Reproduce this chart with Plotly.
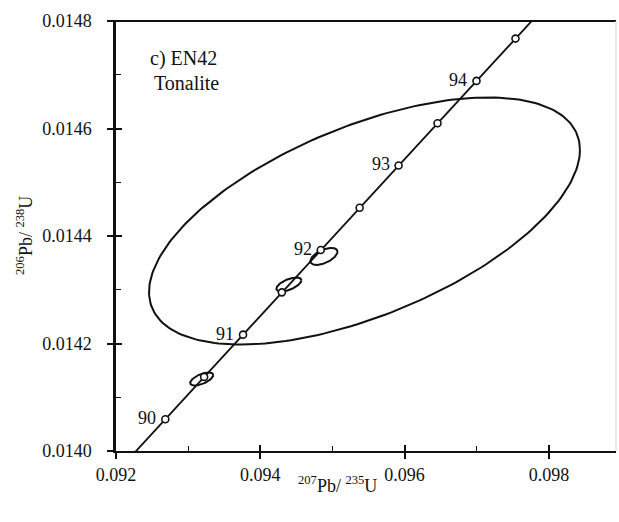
import numpy as np
import plotly.graph_objects as go

# Concordia reference points (age in Ma, 207Pb/235U, 206Pb/238U)
conc_age = [89.5, 90.0, 90.5, 91.0, 91.5, 92.0, 92.5, 93.0, 93.5, 94.0, 94.5, 95.0]
conc_x = [0.09214546, 0.09268339, 0.09322159, 0.09376057, 0.09429878, 0.09483777,
          0.09537703, 0.09591655, 0.09645635, 0.09699640, 0.09753672, 0.09807731]
conc_y = [0.01398053, 0.01405916, 0.01413782, 0.01421648, 0.01429515, 0.01437382,
          0.01445250, 0.01453119, 0.01460988, 0.01468858, 0.01476729, 0.01484600]
labelled_ages = [90, 91, 92, 93, 94]

# Analysis error ellipses: centre, half-widths and correlation
ell_cx = [0.095444, 0.094882, 0.094396, 0.093188]
ell_cy = [0.014428, 0.014362, 0.0143098, 0.014134]
ell_rx = [0.002986, 0.0001875, 0.0001736, 0.000160]
ell_ry = [0.0002298, 0.0000158, 0.0000130, 0.0000121]
ell_rho = [0.575, 0.55, 0.60, 0.60]

x_ticks = [0.092, 0.094, 0.096, 0.098]
x_minor = [0.093, 0.095, 0.097]
y_ticks = [0.0140, 0.0142, 0.0144, 0.0146, 0.0148]
y_minor = [0.0141, 0.0143, 0.0145, 0.0147]
x_range = [0.092, 0.09893]
y_range = [0.0140, 0.0148]

FONT = "'Liberation Serif', 'Times New Roman', Times, serif"
INK = "#111111"

fig = go.Figure()

# error ellipses
theta = np.linspace(0, 2 * np.pi, 240)
for cx, cy, rx, ry, rho in zip(ell_cx, ell_cy, ell_rx, ell_ry, ell_rho):
    ex = cx + rx * np.cos(theta)
    ey = cy + ry * (rho * np.cos(theta) + np.sqrt(1 - rho ** 2) * np.sin(theta))
    fig.add_trace(go.Scatter(x=ex, y=ey, mode="lines",
                             line=dict(color=INK, width=2),
                             showlegend=False, hoverinfo="skip"))

# concordia curve
fig.add_trace(go.Scatter(x=conc_x, y=conc_y, mode="lines",
                         line=dict(color=INK, width=1.8),
                         showlegend=False, hoverinfo="skip"))

# age markers every 0.5 Ma
mk = [(a, x, y) for a, x, y in zip(conc_age, conc_x, conc_y) if 90 <= a <= 94.5]
fig.add_trace(go.Scatter(x=[m[1] for m in mk], y=[m[2] for m in mk], mode="markers",
                         marker=dict(symbol="circle", size=7, color="white",
                                     line=dict(color=INK, width=1.6)),
                         showlegend=False, hoverinfo="skip"))

# dummy trace for the overlaid tick axes
fig.add_trace(go.Scatter(x=[None], y=[None], xaxis="x2", yaxis="y2",
                         showlegend=False, hoverinfo="skip"))

annotations = []
for a, x, y in zip(conc_age, conc_x, conc_y):
    if a in labelled_ages:
        annotations.append(dict(x=x, y=y, xref="x", yref="y", text=str(int(a)),
                                showarrow=False, xanchor="right", yanchor="middle",
                                xshift=-7, yshift=1,
                                font=dict(family=FONT, size=18, color=INK)))

annotations += [
    dict(x=0.064, y=0.913, xref="paper", yref="paper", text="c) EN42",
         showarrow=False, xanchor="left", yanchor="middle",
         font=dict(family=FONT, size=20, color=INK)),
    dict(x=0.072, y=0.855, xref="paper", yref="paper", text="Tonalite",
         showarrow=False, xanchor="left", yanchor="middle",
         font=dict(family=FONT, size=20, color=INK)),
    dict(x=0.442, y=-0.077, xref="paper", yref="paper",
         text="<sup>207</sup>Pb/ <sup>235</sup>U",
         showarrow=False, xanchor="center", yanchor="middle",
         font=dict(family=FONT, size=18, color=INK)),
    dict(x=-0.184, y=0.5, xref="paper", yref="paper",
         text="<sup>206</sup>Pb/ <sup>238</sup>U", textangle=-90,
         showarrow=False, xanchor="center", yanchor="middle",
         font=dict(family=FONT, size=18, color=INK)),
]

axis_common = dict(showgrid=False, zeroline=False, tickcolor=INK, tickwidth=1.6)

fig.update_layout(
    width=619, height=522,
    margin=dict(l=116, r=3, t=21, b=71),
    plot_bgcolor="white", paper_bgcolor="white",
    showlegend=False,
    font=dict(family=FONT, color=INK),
    annotations=annotations,
    xaxis=dict(range=x_range, tickvals=x_ticks, ticktext=[f"{v:.3f}" for v in x_ticks],
               ticks="outside", ticklen=6, showline=True, linecolor=INK, linewidth=2,
               tickfont=dict(family=FONT, size=18, color=INK), **axis_common),
    yaxis=dict(range=y_range, tickvals=y_ticks, ticktext=[f"{v:.4f}" for v in y_ticks],
               ticks="outside", ticklen=6, showline=True, linecolor=INK, linewidth=2.5,
               ticklabelstandoff=12,
               tickfont=dict(family=FONT, size=18, color=INK), **axis_common),
    xaxis2=dict(range=x_range, overlaying="x", anchor="y2", side="bottom",
                tickvals=x_ticks, ticks="inside", ticklen=6, showticklabels=False,
                showline=False,
                minor=dict(tickvals=x_minor, ticks="inside", ticklen=5,
                           tickcolor=INK, tickwidth=1.4),
                **axis_common),
    yaxis2=dict(range=y_range, overlaying="y", anchor="x2", side="left",
                tickvals=y_ticks, ticks="inside", ticklen=6, showticklabels=False,
                showline=False,
                minor=dict(tickvals=y_minor, ticks="inside", ticklen=5,
                           tickcolor=INK, tickwidth=1.4),
                **axis_common),
    shapes=[
        dict(type="line", xref="paper", yref="paper", x0=-0.01, x1=1, y0=1, y1=1,
             line=dict(color=INK, width=2)),
        dict(type="line", xref="paper", yref="paper", x0=1, x1=1, y0=0, y1=1,
             line=dict(color="#d4d4d4", width=1)),
    ],
)

fig.write_html("out.html")
